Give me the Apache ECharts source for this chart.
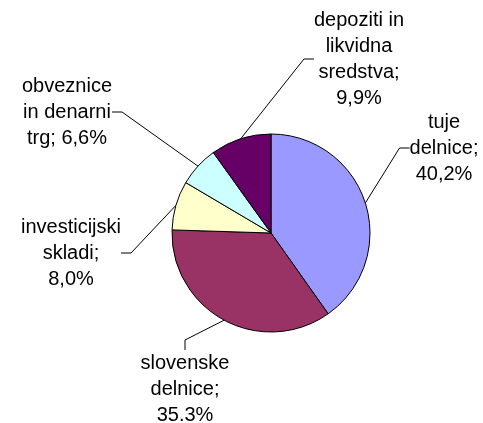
<!DOCTYPE html>
<html>
<head>
<meta charset="utf-8">
<script src="https://cdn.jsdelivr.net/npm/echarts@6/dist/echarts.min.js"></script>
<style>
  html, body { margin: 0; padding: 0; background: #fff; }
  #chart { width: 483px; height: 423px; }
</style>
</head>
<body>
<div id="chart"></div>
<script>
// podatki
const categories = ['tuje delnice', 'slovenske delnice', 'investicijski skladi', 'obveznice in denarni trg', 'depoziti in likvidna sredstva'];
const values = [40.2, 35.3, 8.0, 6.6, 9.9];
const labelTexts = [
    'tuje\ndelnice;\n40,2%',
    'slovenske\ndelnice;\n35.3%',
    'investicijski\nskladi;\n8,0%',
    'obveznice\nin denarni\ntrg; 6,6%',
    'depoziti in\nlikvidna\nsredstva;\n9,9%'
];

const colors = ['#9999FF', '#993366', '#FFFFCC', '#CCFFFF', '#660066'];
// kje stojijo oznake
const labelPos = [[444, 148], [185, 389], [71, 253], [67, 112], [359, 59]];

const myChart = echarts.init(document.getElementById('chart'));
const option = {
    animation: false,
    color: colors,
    series: [
        {
            type: 'pie',
            center: [271, 233],
            radius: 99,
            startAngle: 90,
            clockwise: true,
            itemStyle: {
                borderColor: '#000',
                borderWidth: 1
            },
            label: {
                show: true,
                position: 'outside',
                formatter: function (p) { return labelTexts[p.dataIndex]; },
                fontFamily: 'Liberation Sans, Arial, sans-serif',
                fontSize: 20,
                lineHeight: 26,
                color: '#000',
                align: 'center'
            },
            labelLine: {
                show: true,
                length: 15,
                length2: 10,
                lineStyle: { color: '#000', width: 1 }
            },
            labelLayout: function (params) {
                const pos = labelPos[params.dataIndex];
                return { x: pos[0], y: pos[1], align: 'center', verticalAlign: 'middle' };
            },
            emphasis: { disabled: true },
            data: categories.map(function (c, i) { return { name: c, value: values[i] }; })
        }
    ]
};
myChart.setOption(option);
</script>
</body>
</html>
